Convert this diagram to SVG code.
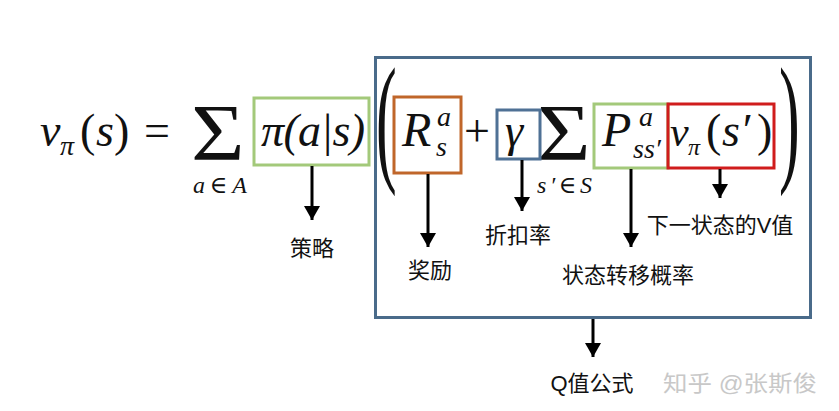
<svg xmlns="http://www.w3.org/2000/svg" width="839" height="411" viewBox="0 0 839 411">
<style>
.m{font-family:"Liberation Serif","DejaVu Serif",serif;font-style:italic;fill:#111}
.r{font-family:"Liberation Serif","DejaVu Serif",serif;fill:#111}
.lb{font-family:"Liberation Sans","Noto Sans CJK SC",sans-serif;font-size:22px;fill:#111;text-anchor:middle}
.bx{fill:none;stroke-width:3}
.ar{stroke:#000;stroke-width:3;fill:none}
</style>
<defs>
<marker id="ah" markerUnits="userSpaceOnUse" markerWidth="18" markerHeight="16" refX="14" refY="8" orient="auto">
<path d="M0,0 L14,8 L0,16 Z" fill="#000"/>
</marker>
</defs>
<rect width="839" height="411" fill="#fff"/>
<g id="formula">
<text class="m" x="40" y="146" font-size="46">v</text>
<text class="m" x="60" y="155" font-size="28">π</text>
<text class="r" x="80" y="146" font-size="46">(</text>
<text class="m" x="96" y="146" font-size="46">s</text>
<text class="r" x="114" y="146" font-size="46">)</text>
<text class="r" x="144" y="146" font-size="46">=</text>
<text class="r" transform="translate(191,160) scale(1.15,1)" font-size="80">Σ</text>
<text class="m" x="193" y="193" font-size="24" textLength="54" lengthAdjust="spacing">a<tspan font-style="normal">∈</tspan>A</text>
<text class="m" x="261" y="146" font-size="46" textLength="104" lengthAdjust="spacing">π(a|s)</text>
<text class="r" transform="translate(376,166) scale(1.35,3.07)" font-size="46">(</text>
<text class="m" x="402" y="146" font-size="48">R</text>
<text class="m" x="437" y="126" font-size="28">a</text>
<text class="m" x="436" y="156" font-size="28">s</text>
<text class="r" x="464" y="146" font-size="46">+</text>
<text class="m" x="505" y="146" font-size="46">γ</text>
<text class="r" transform="translate(537,160) scale(1.15,1)" font-size="80">Σ</text>
<text class="m" x="537" y="193" font-size="24" textLength="55" lengthAdjust="spacing">s′<tspan font-style="normal">∈</tspan>S</text>
<text class="m" x="602" y="146" font-size="48">P</text>
<text class="m" x="639" y="126" font-size="28">a</text>
<text class="m" x="633" y="158" font-size="28">ss′</text>
<text class="m" x="670" y="146" font-size="42">v</text>
<text class="m" x="688" y="155" font-size="24">π</text>
<text class="r" x="706" y="146" font-size="46">(</text>
<text class="m" x="722" y="146" font-size="46">s′</text>
<text class="r" x="757" y="146" font-size="46">)</text>
<text class="r" transform="translate(779,166) scale(1.35,3.07)" font-size="46">)</text>
</g>
<g id="box-q"><rect class="bx" x="375.5" y="57.5" width="435" height="260" stroke="#4a6b8a"/></g>
<g id="box-policy"><rect class="bx" x="254" y="98" width="115" height="67" stroke="#a3c97a"/></g>
<g id="box-reward"><rect class="bx" x="394" y="97" width="67" height="76" stroke="#c0662a"/></g>
<g id="box-gamma"><rect class="bx" x="497" y="110" width="43" height="49" stroke="#4f7195"/></g>
<g id="box-prob"><rect class="bx" x="594" y="104" width="74" height="64" stroke="#a3c97a"/></g>
<g id="box-v"><rect class="bx" x="668" y="104" width="106" height="64" stroke="#d01c1c"/></g>
<g id="connectors">
<line class="ar" x1="312" y1="166" x2="312" y2="220" marker-end="url(#ah)"/>
<line class="ar" x1="428" y1="174" x2="428" y2="247" marker-end="url(#ah)"/>
<line class="ar" x1="522" y1="160" x2="522" y2="211" marker-end="url(#ah)"/>
<line class="ar" x1="631" y1="169" x2="631" y2="247" marker-end="url(#ah)"/>
<line class="ar" x1="720" y1="169" x2="720" y2="198" marker-end="url(#ah)"/>
<line class="ar" x1="593" y1="319" x2="593" y2="357" marker-end="url(#ah)"/>
</g>
<g id="labels">
<text class="lb" x="312" y="256">策略</text>
<text class="lb" x="430" y="278">奖励</text>
<text class="lb" x="518" y="243">折扣率</text>
<text class="lb" x="720" y="233">下一状态的V值</text>
<text class="lb" x="628" y="283">状态转移概率</text>
<text class="lb" x="592" y="391">Q值公式</text>
<text class="lb" x="740" y="391" style="fill:#c8c8c8" textLength="154" lengthAdjust="spacingAndGlyphs">知乎 @张斯俊</text>
</g>
</svg>
